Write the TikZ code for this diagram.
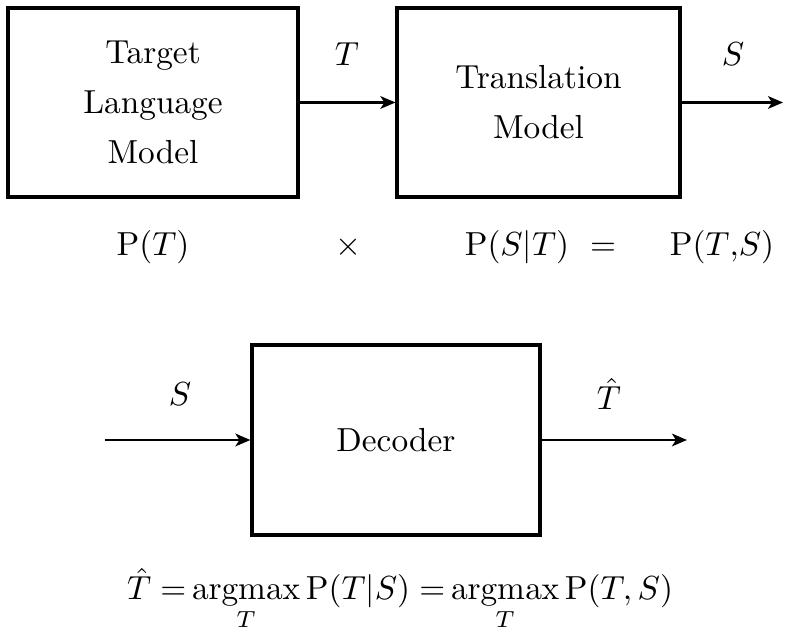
\documentclass[tikz,border=0pt]{standalone}
\usepackage{amsmath}
\usetikzlibrary{arrows.meta}
\begin{document}
\begin{tikzpicture}[x=0.3pt,y=-0.3pt,
  blockbox/.style={draw,line width=0.95pt,inner sep=0pt,align=center},
  conn/.style={line width=0.75pt,-{Stealth[length=4.5pt,width=3.8pt,inset=1.2pt]}},
  lbl/.style={inner sep=0pt,anchor=base}]
\useasboundingbox (0,0) rectangle (786,631);
% top row
\node[blockbox,minimum width=87pt,minimum height=56.7pt] (tlm) at (153,102.5)
  {Target\\[3pt]Language\\[3pt]Model};
\node[blockbox,minimum width=84.9pt,minimum height=56.7pt] (tm) at (538.5,102.5)
  {Translation\\[3pt]Model};
\coordinate (sout) at (783,102.5);
\draw[conn] (tlm) -- (tm);
\draw[conn] (tm) -- (sout);
\node[lbl] (lt) at (347,66) {$T$};
\node[lbl] (ls) at (733,66) {$S$};
% probabilities
\node[lbl] (pt) at (153,256) {$\mathrm{P}(T)$};
\node[lbl] (times) at (348,256) {$\times$};
\node[lbl] (pst) at (517,256) {$\mathrm{P}(S|T)$};
\node[lbl] (eq) at (603,256) {$=$};
\node[lbl] (pts) at (722,256) {$\mathrm{P}(T{,}S)$};
% decoder
\node[blockbox,minimum width=86.4pt,minimum height=57pt] (dec) at (396,440) {Decoder};
\coordinate (din) at (105,440);
\coordinate (dout) at (687,440);
\draw[conn] (din) -- (dec);
\draw[conn] (dec) -- (dout);
\node[lbl] (ds) at (180,406) {$S$};
\node[lbl] (dt) at (609,410) {$\hat{T}$};
\node[lbl] (formula) at (400,600)
  {$\displaystyle \hat{T}\;{=}\mathop{\mathrm{argmax}}\limits_{T}\mathrm{P}(T|S)\;{=}\mathop{\mathrm{argmax}}\limits_{T}\mathrm{P}(T,S)$};
\end{tikzpicture}
\end{document}
